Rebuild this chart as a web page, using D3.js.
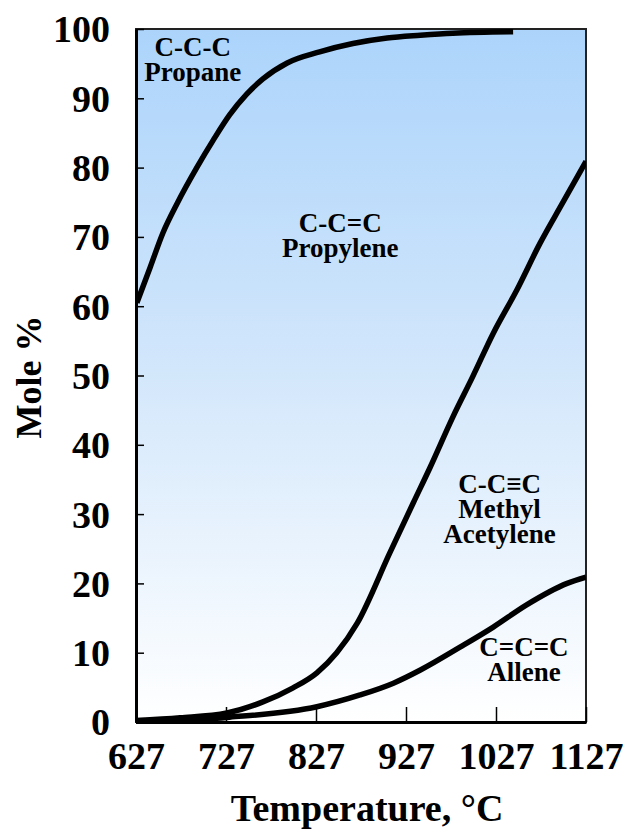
<!DOCTYPE html>
<html>
<head>
<meta charset="utf-8">
<script src="https://cdn.jsdelivr.net/npm/d3@7"></script>
<style>
  body { margin: 0; background: #fff; }
  text { font-family: "Liberation Serif", "Times New Roman", serif; font-weight: bold; fill: #000; }
</style>
</head>
<body>
<div class="chart"></div>
<script>
// data (temperature in °C, mole %)
const xTicks = [627, 727, 827, 927, 1027, 1127];
const yTicks = [0, 10, 20, 30, 40, 50, 60, 70, 80, 90, 100];

const propaneT = [628, 643, 657, 673, 695, 713, 731, 750, 768, 795, 831, 868, 906, 943, 979, 1046];
const propaneV = [60.5, 65.7, 70.6, 74.9, 80.1, 84.0, 87.6, 90.6, 92.8, 95.1, 96.7, 97.9, 98.7, 99.1, 99.4, 99.6];

const methylT = [627, 676, 728, 768, 801, 828, 850, 873, 909, 935, 954, 979, 1001, 1024, 1050, 1076, 1101, 1127];
const methylV = [0.2, 0.6, 1.3, 2.9, 4.9, 7.1, 10.0, 14.3, 24.4, 31.6, 36.8, 44.0, 49.8, 56.1, 62.3, 69.1, 74.9, 80.9];

const alleneT = [627, 731, 828, 876, 913, 943, 987, 1024, 1061, 1106, 1127];
const alleneV = [0.1, 0.7, 2.2, 3.9, 5.6, 7.5, 10.8, 13.7, 16.9, 20.0, 20.9];

const labels = [
  { t: 690, v: 96.1, lines: ["C-C-C", "Propane"] },
  { t: 854, v: 70.7, lines: ["C-C=C", "Propylene"] },
  { t: 1031, v: 33.1, lines: ["C-C\u2261C", "Methyl", "Acetylene"] },
  { t: 1058, v: 9.5, lines: ["C=C=C", "Allene"] }
];

const W = 629, H = 830;
const svg = d3.select(".chart").append("svg")
  .attr("width", W)
  .attr("height", H);

const x = d3.scaleLinear().domain([627, 1127]).range([136, 586]);
const y = d3.scaleLinear().domain([0, 100]).range([722, 29]);

const defs = svg.append("defs");
const grad = defs.append("linearGradient")
  .attr("id", "bg")
  .attr("x1", 0).attr("y1", 0).attr("x2", 0).attr("y2", 1);
grad.append("stop").attr("offset", "0%").attr("stop-color", "#acd4fb");
grad.append("stop").attr("offset", "45%").attr("stop-color", "#cfe5fb");
grad.append("stop").attr("offset", "100%").attr("stop-color", "#ffffff");

defs.append("clipPath").attr("id", "plot")
  .append("rect")
  .attr("x", x(627)).attr("y", y(100) - 3)
  .attr("width", x(1127) - x(627)).attr("height", y(0) - y(100) + 6);

// plot background + frame
svg.append("rect")
  .attr("x", x(627)).attr("y", y(100))
  .attr("width", x(1127) - x(627))
  .attr("height", y(0) - y(100))
  .attr("fill", "url(#bg)")
  .attr("stroke", "#222")
  .attr("stroke-width", 2);

// axes
const yAxis = svg.append("g")
  .attr("transform", "translate(" + x(627) + ",0)")
  .call(d3.axisLeft(y).tickValues(yTicks).tickSizeInner(-8).tickSizeOuter(0).tickPadding(26));
yAxis.select(".domain").attr("stroke", "#000").attr("stroke-width", 3);
yAxis.selectAll(".tick line").attr("stroke", "#000").attr("stroke-width", 1.5);
yAxis.selectAll(".tick text")
  .attr("font-size", 38)
  .attr("font-family", "Liberation Serif")
  .attr("font-weight", "bold")
  .attr("dy", "0.34em");

const xAxis = svg.append("g")
  .attr("transform", "translate(0," + y(0) + ")")
  .call(d3.axisBottom(x).tickValues(xTicks).tickSizeInner(-15).tickSizeOuter(0).tickPadding(20).tickFormat(d3.format("d")));
xAxis.select(".domain").attr("stroke", "#000").attr("stroke-width", 3);
xAxis.selectAll(".tick line").attr("stroke", "#000").attr("stroke-width", 1.5);
xAxis.selectAll(".tick text")
  .attr("font-size", 38)
  .attr("font-family", "Liberation Serif")
  .attr("font-weight", "bold");

// curves
const line = d3.line()
  .x(d => x(d[0]))
  .y(d => y(d[1]))
  .curve(d3.curveMonotoneX);

const series = [
  d3.zip(propaneT, propaneV),
  d3.zip(methylT, methylV),
  d3.zip(alleneT, alleneV)
];

svg.append("g").attr("clip-path", "url(#plot)")
  .selectAll("path")
  .data(series)
  .enter()
  .append("path")
  .attr("d", line)
  .attr("fill", "none")
  .attr("stroke", "#000")
  .attr("stroke-width", 5.5);

// curve labels
labels.forEach(l => {
  const t = svg.append("text")
    .attr("text-anchor", "middle")
    .attr("font-size", 27)
    .attr("x", x(l.t))
    .attr("y", y(l.v));
  l.lines.forEach((s, i) => {
    t.append("tspan")
      .attr("x", x(l.t))
      .attr("dy", i === 0 ? 0 : 25)
      .text(s);
  });
});

// axis titles
svg.append("text")
  .attr("text-anchor", "middle")
  .attr("font-size", 38)
  .attr("x", 367)
  .attr("y", 821)
  .text("Temperature, \u00b0C");

svg.append("text")
  .attr("text-anchor", "middle")
  .attr("font-size", 36)
  .attr("transform", "translate(41,377) rotate(-90)")
  .text("Mole %");
</script>
</body>
</html>
